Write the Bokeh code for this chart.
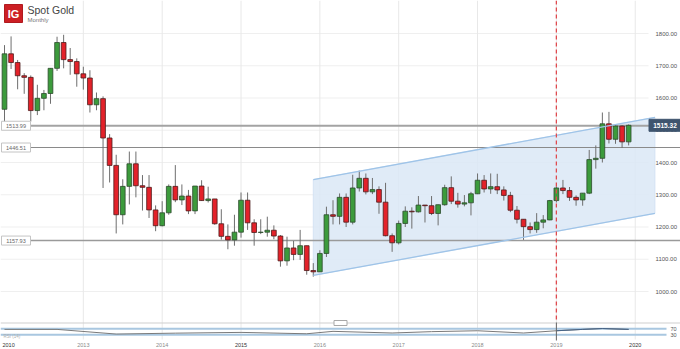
import numpy as np
from bokeh.plotting import figure
from bokeh.models import Range1d, ColumnDataSource
from bokeh.core.properties import value
from bokeh.embed import file_html
from bokeh.resources import INLINE

# ---------------- data (monthly spot gold, Jan 2012 .. Dec 2019) ----------------
opens = [1565, 1737, 1710, 1669, 1664, 1561, 1599, 1614, 1692, 1772, 1719, 1713,
         1675, 1662, 1579, 1598, 1476, 1391, 1238, 1326, 1396, 1328, 1323, 1253,
         1204, 1244, 1326, 1284, 1296, 1250, 1327, 1282, 1287, 1210, 1171, 1160,
         1184, 1283, 1213, 1183, 1184, 1190, 1172, 1095, 1135, 1115, 1142, 1065,
         1061, 1118, 1238, 1233, 1292, 1215, 1321, 1351, 1309, 1316, 1277, 1173,
         1151, 1211, 1249, 1247, 1268, 1266, 1242, 1269, 1322, 1280, 1271, 1275,
         1303, 1345, 1318, 1325, 1315, 1298, 1252, 1224, 1201, 1192, 1215, 1222,
         1282, 1321, 1313, 1292, 1284, 1305, 1409, 1413, 1520, 1472, 1513, 1464]
highs = [1764, 1791, 1718, 1677, 1670, 1641, 1625, 1693, 1790, 1796, 1755, 1723,
         1697, 1686, 1617, 1605, 1488, 1424, 1348, 1434, 1434, 1361, 1361, 1267,
         1280, 1332, 1392, 1332, 1315, 1326, 1345, 1325, 1287, 1255, 1208, 1238,
         1307, 1307, 1224, 1224, 1232, 1205, 1175, 1170, 1157, 1191, 1142, 1088,
         1128, 1263, 1283, 1304, 1304, 1362, 1375, 1366, 1352, 1326, 1337, 1180,
         1220, 1264, 1261, 1296, 1268, 1296, 1270, 1331, 1357, 1306, 1299, 1309,
         1366, 1361, 1366, 1365, 1326, 1309, 1265, 1224, 1214, 1243, 1237, 1284,
         1326, 1346, 1324, 1298, 1305, 1439, 1453, 1555, 1557, 1517, 1516, 1518]
lows = [1523, 1690, 1627, 1613, 1527, 1547, 1562, 1582, 1684, 1692, 1672, 1635,
        1626, 1555, 1562, 1321, 1338, 1180, 1208, 1270, 1292, 1251, 1228, 1187,
        1202, 1238, 1277, 1268, 1240, 1240, 1281, 1276, 1207, 1161, 1131, 1142,
        1167, 1191, 1142, 1178, 1170, 1162, 1077, 1080, 1097, 1098, 1052, 1046,
        1061, 1107, 1208, 1208, 1200, 1208, 1310, 1301, 1302, 1241, 1171, 1123,
        1146, 1200, 1195, 1245, 1214, 1237, 1205, 1266, 1271, 1260, 1264, 1236,
        1302, 1307, 1303, 1302, 1282, 1246, 1211, 1160, 1180, 1182, 1196, 1221,
        1276, 1302, 1281, 1266, 1266, 1302, 1381, 1400, 1459, 1458, 1445, 1453]
closes = [1737, 1710, 1669, 1664, 1561, 1599, 1614, 1692, 1772, 1719, 1713, 1675,
          1662, 1579, 1598, 1476, 1391, 1238, 1326, 1396, 1328, 1323, 1253, 1204,
          1244, 1326, 1284, 1296, 1250, 1327, 1282, 1287, 1210, 1171, 1160, 1184,
          1283, 1213, 1183, 1184, 1190, 1172, 1095, 1135, 1115, 1142, 1065, 1061,
          1118, 1238, 1233, 1292, 1215, 1321, 1351, 1309, 1316, 1277, 1173, 1151,
          1211, 1249, 1247, 1268, 1266, 1242, 1269, 1322, 1280, 1271, 1275, 1303,
          1345, 1318, 1325, 1315, 1298, 1252, 1224, 1201, 1192, 1215, 1222, 1282,
          1321, 1313, 1292, 1284, 1305, 1409, 1413, 1520, 1472, 1513, 1464, 1515.32]

year_labels = ["2010", "2013", "2014", "2015", "2016", "2017", "2018", "2019", "2020"]
year_index = [0, 12, 24, 36, 48, 60, 72, 84, 96]
year_strong = [True, False, False, True, False, False, False, False, True]

price_ticks = [1000, 1100, 1200, 1300, 1400, 1500, 1600, 1700, 1800]
price_tick_labels = ["1000.00", "1100.00", "1200.00", "1300.00", "1400.00",
                     "1500.00", "1600.00", "1700.00", "1800.00"]

level_values = [1513.99, 1446.51, 1157.93]
level_labels = ["1513.99", "1446.51", "1157.93"]

channel_x = [47, 99]
channel_top = [1347, 1540]
channel_bottom = [1050, 1242]

marker_index = 84  # Jan 2019
last_price = 1515.32
last_price_label = "1515.32"

rsi_index = [0, 8, 17, 26, 36, 46, 50, 59, 65, 72, 79, 84, 88, 91, 95]
rsi_values = [66, 66, 35, 41, 46, 37, 53, 42, 51, 57, 42, 57, 66, 72, 66]
rsi_bands = [70, 30]
rsi_band_labels = ["70", "30"]

# ---------------- layout helpers (pixel -> data) ----------------
W, H = 680, 349
DX = 6.57          # px per month
X_OFF = 4          # px of first candle centre
KY = 0.3225        # px per dollar
Y_REF_PX, Y_REF = 33, 1800
x0 = -X_OFF / DX
x1 = (W - X_OFF) / DX
y1 = Y_REF + Y_REF_PX / KY
y0 = Y_REF - (H - Y_REF_PX) / KY
KR = 0.15          # px per RSI unit
R70_PX = 328.3
r1 = 70 + R70_PX / KR
r0 = 70 - (H - R70_PX) / KR


def X(px):
    return x0 + px / DX


def Y(py):
    return y1 - py / KY


FONT = value("Liberation Sans")

p = figure(width=W, height=H, x_range=Range1d(x0, x1), y_range=Range1d(y0, y1),
           output_backend="svg", toolbar_location=None,
           x_axis_location=None, y_axis_location=None, min_border=0)
p.outline_line_color = None
p.xgrid.grid_line_color = None
p.ygrid.grid_line_color = None
p.background_fill_color = "white"
p.border_fill_color = "white"
p.extra_y_ranges = {"rsi": Range1d(r0, r1)}

# gridlines
p.segment(x0=[X(0)] * len(price_ticks), x1=[X(648)] * len(price_ticks),
          y0=price_ticks, y1=price_ticks, line_color="#efefef", line_width=1)
p.segment(x0=year_index[1:], x1=year_index[1:], y0=[Y(0)] * 8, y1=[Y(339)] * 8,
          line_color="#e8e8e8", line_width=1)

# channel
p.patch(x=[channel_x[0], channel_x[1], channel_x[1], channel_x[0]],
        y=[channel_top[0], channel_top[1], channel_bottom[1], channel_bottom[0]],
        fill_color="#dbe8f6", fill_alpha=0.85, line_color="#cfe0f2", line_width=0.8)

# horizontal levels
p.segment(x0=[X(30)] * 3, x1=[X(680)] * 3, y0=level_values, y1=level_values,
          line_color=["#a3a3a3", "#8a8a8a", "#9a9a9a"], line_width=[2, 1.2, 1.5])

# candles
o = np.array(opens, dtype=float)
c = np.array(closes, dtype=float)
idx = np.arange(len(opens))
up = c >= o
src = ColumnDataSource(dict(
    x=idx, high=highs, low=lows,
    top=np.maximum(o, c), bottom=np.minimum(o, c),
    fill=np.where(up, "#3c9b3c", "#e3222a"),
    edge=np.where(up, "#2c4a2c", "#4c1c1c"),
))
p.segment(x0="x", x1="x", y0="low", y1="high", source=src, line_color="#6e6e6e", line_width=1)
p.vbar(x="x", width=0.72, top="top", bottom="bottom", source=src,
       fill_color="fill", line_color="edge", line_width=0.8)

# channel edges
p.line(x=channel_x, y=channel_top, line_color="#9fc4e8", line_width=1.3)
p.line(x=channel_x, y=channel_bottom, line_color="#9fc4e8", line_width=1.3)

# dashed marker
p.segment(x0=[marker_index], x1=[marker_index], y0=[Y(0)], y1=[Y(322)],
          line_color="#e04a4f", line_width=1.3, line_dash="4 3")

# level label boxes
p.rect(x=[X(15.5)] * 3, y=level_values, width=29, height=9,
       width_units="screen", height_units="screen",
       fill_color="white", line_color="#c4c4c4", line_width=1)
p.text(x=[X(15.5)] * 3, y=level_values, text=level_labels, text_font=FONT,
       text_font_size="5.5px", text_color="#666666", text_align="center",
       text_baseline="middle")

# price axis labels
p.text(x=[X(655)] * len(price_ticks), y=price_ticks, text=price_tick_labels,
       text_font=FONT, text_font_size="6px", text_color="#555555",
       text_align="left", text_baseline="middle")

# last price box
p.rect(x=[X(664.5)], y=[last_price], width=32, height=12,
       width_units="screen", height_units="screen",
       fill_color="#3f546e", line_color="#3f546e")
p.text(x=[X(664.5)], y=[last_price], text=[last_price_label], text_font=FONT,
       text_font_size="6.5px", text_font_style="bold", text_color="white",
       text_align="center", text_baseline="middle")

# title + logo
p.rect(x=[X(13)], y=[Y(13)], width=18, height=18,
       width_units="screen", height_units="screen",
       fill_color="#cc1f24", line_color="#b01a1f")
p.text(x=[X(13)], y=[Y(13.5)], text=["IG"], text_font=FONT, text_font_size="11px",
       text_font_style="bold", text_color="white", text_align="center",
       text_baseline="middle")
p.text(x=[X(27)], y=[Y(9)], text=["Spot Gold"], text_font=FONT,
       text_font_size="10.5px", text_color="#444444", text_baseline="middle")
p.text(x=[X(27)], y=[Y(19.5)], text=["Monthly"], text_font=FONT,
       text_font_size="6px", text_color="#777777", text_baseline="middle")

# ---------------- RSI pane ----------------
p.segment(x0=[X(0)], x1=[X(680)], y0=[Y(322.5)], y1=[Y(322.5)],
          line_color="#cfcfcf", line_width=1)
p.segment(x0=[X(0)] * 2, x1=[X(666)] * 2, y0=rsi_bands, y1=rsi_bands,
          line_color="#a9c7e0", line_width=2, y_range_name="rsi")
p.line(x=rsi_index, y=rsi_values, line_color="#7a7a7a", line_width=1,
       y_range_name="rsi")
p.line(x=rsi_index[-4:], y=rsi_values[-4:], line_color="#46658a", line_width=1,
       y_range_name="rsi")
p.segment(x0=[marker_index], x1=[marker_index], y0=[Y(322)], y1=[Y(340)],
          line_color="#666666", line_width=1)
p.text(x=[X(670)] * 2, y=rsi_bands, text=rsi_band_labels, text_font=FONT,
       text_font_size="5.5px", text_color="#555555", text_baseline="middle",
       y_range_name="rsi")
p.text(x=[X(3)], y=[Y(335.5)], text=["RSI (14)"], text_font=FONT,
       text_font_size="4.5px", text_color="#b0b0b0", text_baseline="middle")
p.rect(x=[X(340)], y=[Y(322.5)], width=13, height=5,
       width_units="screen", height_units="screen",
       fill_color="white", line_color="#a8a8a8")

# x-axis year labels
yl_x = [X(2)] + year_index[1:]
yl_align = ["left"] + ["center"] * 8
yl_color = ["#333333" if s else "#8a8a8a" for s in year_strong]
p.text(x=yl_x, y=[Y(344)] * len(year_labels), text=year_labels, text_font=FONT,
       text_font_size="5.5px", text_color=yl_color, text_align=yl_align,
       text_baseline="middle")

open("out.html", "w").write(file_html(p, INLINE))
